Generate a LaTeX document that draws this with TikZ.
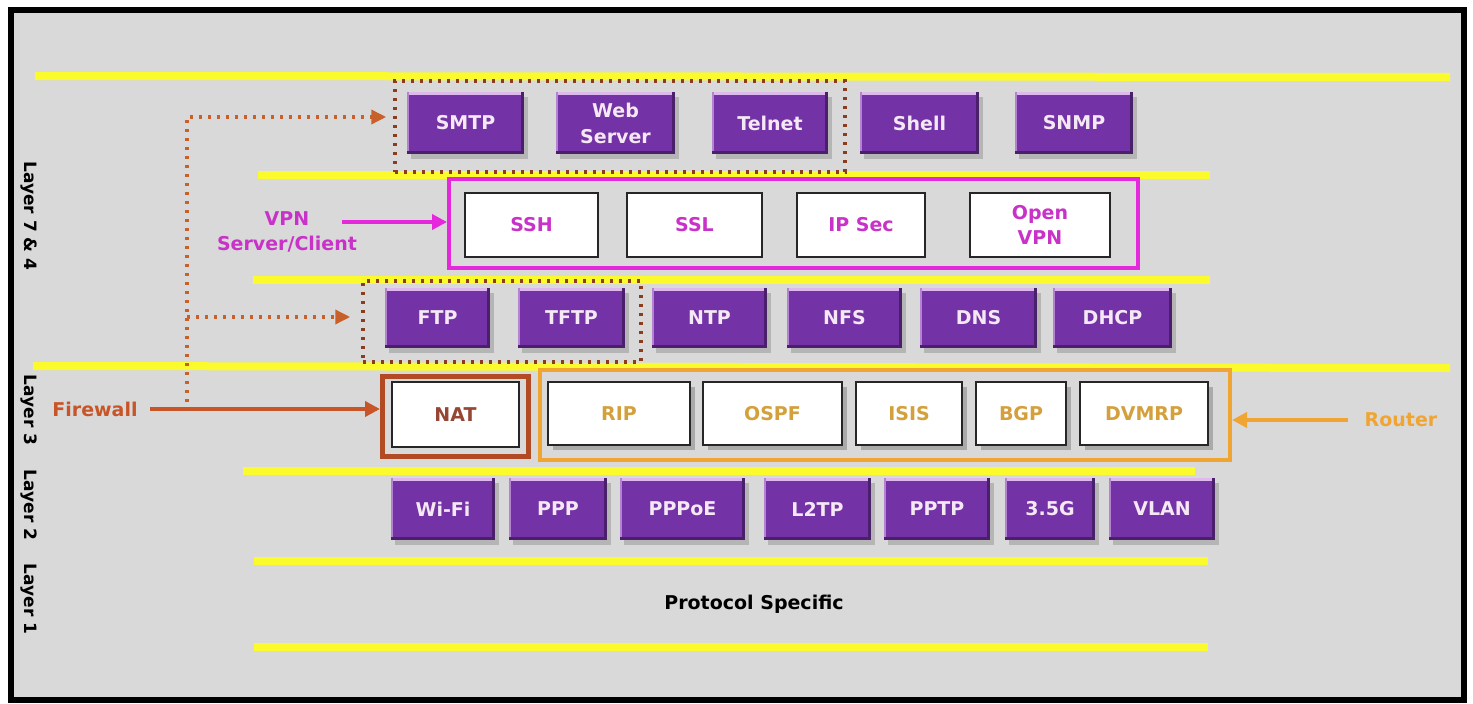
\documentclass[tikz,border=0pt]{standalone}
\usepackage{fontspec}
\setmainfont{DejaVu Sans}
\usetikzlibrary{arrows.meta,shadows,calc}
\definecolor{cBg}{RGB}{217,217,217}
\definecolor{cYel}{RGB}{250,250,45}
\definecolor{cPurple}{RGB}{115,50,165}
\definecolor{cBtnText}{RGB}{245,232,245}
\definecolor{cHi}{RGB}{222,185,238}
\definecolor{cMag}{RGB}{230,40,220}
\definecolor{cVpnText}{RGB}{200,50,200}
\definecolor{cOrange}{RGB}{240,165,50}
\definecolor{cRouterText}{RGB}{212,160,60}
\definecolor{cNat}{RGB}{178,75,35}
\definecolor{cFire}{RGB}{200,85,40}
\definecolor{cNatText}{RGB}{150,70,50}
\definecolor{cDot}{RGB}{140,60,30}
\definecolor{cDotArr}{RGB}{200,96,42}
\tikzset{
  txt/.style={font=\bfseries\fontsize{19}{26}\selectfont},
  pbtn/.style={txt, fill=cPurple, text=cBtnText, align=center, inner sep=0pt, minimum height=62pt,
    drop shadow={shadow xshift=4pt, shadow yshift=-5pt, fill=black!40, opacity=.55},
    path picture={
      \fill[cHi] (path picture bounding box.north west) rectangle ([yshift=-3pt]path picture bounding box.north east);
      \fill[cHi!60!cPurple] (path picture bounding box.north west) rectangle ([xshift=2pt]path picture bounding box.south west);
      \fill[black!35!cPurple] (path picture bounding box.south west) rectangle ([yshift=3pt]path picture bounding box.south east);
      \fill[black!35!cPurple] (path picture bounding box.north east) rectangle ([xshift=-3pt]path picture bounding box.south east);
    }},
  wbox/.style={txt, fill=white, draw=black!85, line width=1.5pt, align=center, inner sep=0pt},
  vbox/.style={wbox, text=cVpnText, minimum height=64pt},
  rbox/.style={wbox, text=cRouterText, minimum height=63pt,
    drop shadow={shadow xshift=5pt, shadow yshift=-5pt, fill=black!45, opacity=.6}},
  yline/.style={cYel, line width=8pt},
  dotbox/.style={draw=cDot, line width=3.5pt, dash pattern=on 3pt off 6pt, inner sep=0pt},
  dotarrow/.style={draw=cDotArr, line width=3.5pt, dash pattern=on 3pt off 6pt, -{Triangle[length=15pt,width=14pt]}},
  solidarrow/.style={line width=4pt, -{Triangle[length=15pt,width=15pt]}},
  layerlbl/.style={font=\bfseries\fontsize{17}{20}\selectfont, rotate=-90, inner sep=0pt},
}
\begin{document}
\begin{tikzpicture}[x=1pt,y=-1pt]
\useasboundingbox (0,0) rectangle (1473,704);
\fill[white] (0,0) rectangle (1473,704);
\draw[fill=cBg, line width=6pt] (10.5,9.5) rectangle (1463.5,700);

% yellow layer lines
\draw[yline] (35,76) -- (1450,77);
\draw[yline] (258,175) -- (1210,175);
\draw[yline] (253,280) -- (1210,280);
\draw[yline] (33,366) -- (1450,368);
\draw[yline] (243,471) -- (1195,471);
\draw[yline] (254,561) -- (1208,561);
\draw[yline] (254,647) -- (1208,647);

% layer labels
\node[layerlbl] (l74) at (29,216) {Layer 7 \& 4};
\node[layerlbl] (l3) at (29,410) {Layer 3};
\node[layerlbl] (l2) at (29,505) {Layer 2};
\node[layerlbl] (l1) at (29,599) {Layer 1};

% dotted groups
\node[dotbox, minimum width=450pt, minimum height=91pt] (grp1) at (620,126.5) {};
\node[dotbox, minimum width=278pt, minimum height=81pt] (grp2) at (502,321.5) {};

% row 1
\node[pbtn, minimum width=117pt] (smtp) at (465.5,123) {SMTP};
\node[pbtn, minimum width=119pt] (web) at (615.5,123) {Web\\Server};
\node[pbtn, minimum width=116pt] (telnet) at (770,123) {Telnet};
\node[pbtn, minimum width=119pt] (shell) at (919.5,123) {Shell};
\node[pbtn, minimum width=118pt] (snmp) at (1074,123) {SNMP};

% row 2 VPN
\node[draw=cMag, line width=4pt, minimum width=689pt, minimum height=89pt, inner sep=0pt] (vpnbox) at (793.5,223.5) {};
\node[vbox, minimum width=133pt] (ssh) at (531.5,225) {SSH};
\node[vbox, minimum width=135pt] (ssl) at (694.5,225) {SSL};
\node[vbox, minimum width=128pt] (ipsec) at (861,225) {IP Sec};
\node[vbox, minimum width=140pt, font=\bfseries\fontsize{19}{25}\selectfont] (ovpn) at (1040,225) {Open\\VPN};
\node[txt, text=cVpnText, align=center, inner sep=0pt, font=\bfseries\fontsize{19}{25}\selectfont] (vpnlbl) at (287,232) {VPN\\Server/Client};
\coordinate (vpnstart) at (342,222);
\draw[cMag, solidarrow] (vpnstart) -- (vpnstart -| vpnbox.west);

% row 3
\node[pbtn, minimum width=105pt, minimum height=60pt] (ftp) at (437.5,318) {FTP};
\node[pbtn, minimum width=107pt, minimum height=60pt] (tftp) at (571.5,318) {TFTP};
\node[pbtn, minimum width=115pt, minimum height=60pt] (ntp) at (709.5,318) {NTP};
\node[pbtn, minimum width=115pt, minimum height=60pt] (nfs) at (844.5,318) {NFS};
\node[pbtn, minimum width=117pt, minimum height=60pt] (dns) at (978.5,318) {DNS};
\node[pbtn, minimum width=119pt, minimum height=60pt] (dhcp) at (1112.5,318) {DHCP};

% row 4
\node[draw=cNat, line width=5pt, minimum width=146pt, minimum height=80pt, inner sep=0pt] (natbox) at (455.5,416.5) {};
\node[wbox, text=cNatText, minimum width=127pt, minimum height=65pt] (nat) at (455.5,414.5) {NAT};
\node[draw=cOrange, line width=4pt, minimum width=690pt, minimum height=90pt, inner sep=0pt] (routerbox) at (885,415) {};
\node[rbox, minimum width=142pt] (rip) at (619,413.5) {RIP};
\node[rbox, minimum width=139pt] (ospf) at (772.5,413.5) {OSPF};
\node[rbox, minimum width=106pt] (isis) at (909,413.5) {ISIS};
\node[rbox, minimum width=90pt] (bgp) at (1021,413.5) {BGP};
\node[rbox, minimum width=128pt] (dvmrp) at (1144,413.5) {DVMRP};

\node[txt, text=cFire, inner sep=0pt] (fw) at (95,409) {Firewall};
\coordinate (fwstart) at ([xshift=12pt]fw.east);
\draw[cFire, solidarrow] (fwstart) -- (fwstart -| natbox.west);
\node[txt, text=cOrange, inner sep=0pt] (rlbl) at (1401,420) {Router};
\coordinate (rstart) at ([xshift=-17pt]rlbl.west);
\draw[cOrange, solidarrow] (rstart) -- (rstart -| routerbox.east);

% dotted firewall arrows
\coordinate (vbot) at (187,402);
\coordinate (vtop) at (187,117);
\coordinate (vmid) at (187,317);
\draw[dotarrow] (vbot) -- (vtop) -- ([xshift=-7pt]vtop -| grp1.west);
\draw[dotarrow] (vmid) -- ([xshift=-11pt]vmid -| grp2.west);

% row 5
\node[pbtn, minimum width=104pt] (wifi) at (443,509) {Wi-Fi};
\node[pbtn, minimum width=98pt] (ppp) at (558,509) {PPP};
\node[pbtn, minimum width=125pt] (pppoe) at (682.5,509) {PPPoE};
\node[pbtn, minimum width=107pt] (l2tp) at (817.5,509) {L2TP};
\node[pbtn, minimum width=106pt] (pptp) at (937,509) {PPTP};
\node[pbtn, minimum width=90pt] (g35) at (1050,509) {3.5G};
\node[pbtn, minimum width=106pt] (vlan) at (1162,509) {VLAN};

% layer 1
\node[txt, text=black] (proto) at (754,604) {Protocol Specific};
\end{tikzpicture}
\end{document}
